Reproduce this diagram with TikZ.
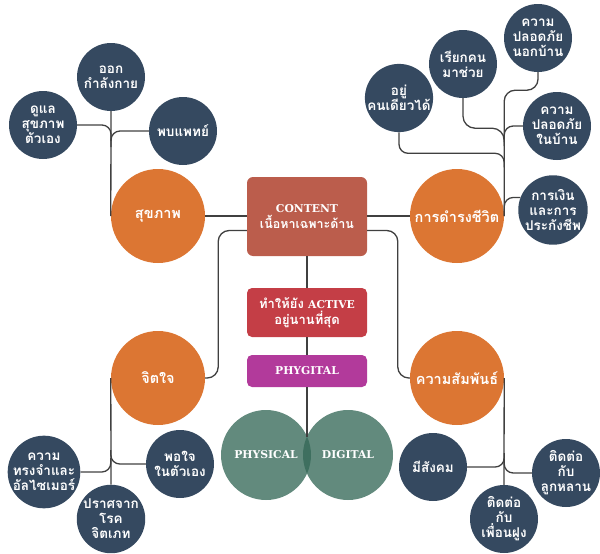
\documentclass[tikz,border=0pt]{standalone}
\usepackage{fontspec}
\newfontfamily\thai[Script=Thai]{Loma}
\newfontfamily\slab{DejaVu Serif}
\usetikzlibrary{calc}
\definecolor{navy}{HTML}{354960}
\definecolor{orangec}{HTML}{DC7633}
\definecolor{contentc}{HTML}{BB5D4C}
\definecolor{activec}{HTML}{C43E46}
\definecolor{phygc}{HTML}{B23A9B}
\definecolor{greenc}{RGB}{51,103,86}
\definecolor{linegray}{HTML}{404040}
\begin{document}
\begin{tikzpicture}[x=1pt,y=-1pt,
  conn/.style={draw=linegray,line width=1.3pt,rounded corners=9pt},
  sub/.style={circle,fill=navy,minimum size=68pt,inner sep=0pt,align=center,text=white,font=\thai\bfseries\fontsize{13.5}{15}\selectfont},
  topic/.style={circle,fill=orangec,minimum size=94pt,inner sep=0pt,align=center,text=white,font=\thai\bfseries\fontsize{14.5}{16}\selectfont},
  box/.style={rectangle,rounded corners=6pt,minimum width=120pt,inner sep=0pt,align=center,text=white,font=\thai\bfseries\fontsize{13}{16}\selectfont},
  venn/.style={circle,fill=greenc,fill opacity=0.77,text opacity=1,minimum size=90pt,inner sep=0pt,text=white,font=\slab\bfseries\fontsize{10.8}{12}\selectfont},
  lat/.style={font=\slab\bfseries\fontsize{10.5}{12}\selectfont}
]
\useasboundingbox (0,0) rectangle (600,554);

% central column
\node[box,fill=contentc,minimum height=79pt] (content) at (307,216.5)
  {{\slab\bfseries\fontsize{10.8}{12}\selectfont CONTENT}\\{\fontsize{12.5}{16}\selectfont เนื้อหาเฉพาะด้าน}};
\node[box,fill=activec,minimum height=49pt,rounded corners=5pt] (active) at (307,312.5)
  {ทำให้ยัง {\slab\bfseries\fontsize{10.8}{12}\selectfont ACTIVE}\\อยู่นานที่สุด};
\node[box,fill=phygc,minimum height=32pt,rounded corners=5pt] (phygital) at (307,371)
  {{\slab\bfseries\fontsize{10.8}{12}\selectfont PHYGITAL}};
\node[venn] (physical) at (266,455) {PHYSICAL};
\node[venn] (digital) at (348,455) {DIGITAL};
\coordinate (lenstop) at (307,436.5);

% topics
\node[topic] (health) at (158,216) {สุขภาพ};
\node[topic] (living) at (457,216) {การดำรงชีวิต};
\node[topic] (mind) at (158,378) {จิตใจ};
\node[topic] (relation) at (457,378) {ความสัมพันธ์};

% health subtopics
\node[sub] (h1) at (111,77) {ออก\\กำลังกาย};
\node[sub] (h2) at (43,125) {ดูแล\\สุขภาพ\\ตัวเอง};
\node[sub] (h3) at (183,131) {พบแพทย์};

% living subtopics
\node[sub] (l1) at (399,98) {อยู่\\คนเดียวได้};
\node[sub] (l2) at (463,64) {เรียกคน\\มาช่วย};
\node[sub] (l3) at (538,38) {ความ\\ปลอดภัย\\นอกบ้าน};
\node[sub] (l4) at (557,126) {ความ\\ปลอดภัย\\ในบ้าน};
\node[sub] (l5) at (553,210) {การเงิน\\และการ\\ประกังชีพ};

% mind subtopics
\node[sub] (m1) at (44,472) {ความ\\ทรงจำและ\\อัลไซเมอร์};
\node[sub] (m2) at (111,519) {ปราศจาก\\โรค\\จิตเภท};
\node[sub] (m3) at (180,464) {พอใจ\\ในตัวเอง};

% relation subtopics
\node[sub] (r1) at (433,467) {มีสังคม};
\node[sub] (r2) at (504,519) {ติดต่อ\\กับ\\เพื่อนฝูง};
\node[sub] (r3) at (566,473) {ติดต่อ\\กับ\\ลูกหลาน};

% central connectors
\draw[conn] (content.south) -- (active.north);
\draw[conn] (active.south) -- (phygital.north);
\draw[conn] (phygital.south) -- (lenstop);
\draw[conn] (health.east) -- (content.west |- health.east);
\draw[conn] (content.east |- living.west) -- (living.west);
\draw[conn,rounded corners=11pt] ([yshift=-14pt]content.west) -| ($(mind.east)+(13,0)$) -- (mind.east);
\draw[conn,rounded corners=11pt] ([yshift=-14pt]content.east) -| ($(relation.west)+(-12,0)$) -- (relation.west);

% health branches
\draw[conn] (h1.south) -- (health.west);
\draw[conn] (h2.east) -| ($(h2.east -| h1.south)+(0,16)$);
\draw[conn] (h3.west) -| ($(h3.west -| h1.south)+(0,16)$);

% living branches
\draw[conn,rounded corners=11pt] (l3.south) |- ($(l3.south -| living.east)+(0,18)$) -- (living.east);
\draw[conn,rounded corners=12pt] (l2.south) |- ($(l2.south -| living.east)+(0,30)$) -- ++(0,18);
\draw[conn] (l1.south) |- ($(l1.south -| living.east)+(0,21)$) -- ++(0,14);
\draw[conn] (l4.west) -| ($(l4.west -| living.east)+(0,16)$);
\draw[conn] (l5.159) -| (living.east);

% mind branches
\draw[conn] (mind.west) -- (m2.north);
\draw[conn] (m1.east) -| ($(m1.east -| mind.west)+(0,-14)$);
\draw[conn] (m3.west) -| ($(m3.west -| mind.west)+(0,-14)$);

% relation branches
\draw[conn] (relation.east) -- (r2.north);
\draw[conn] (r1.east) -| ($(r1.east -| relation.east)+(0,-14)$);
\draw[conn] (r3.west) -| ($(r3.west -| relation.east)+(0,-14)$);
\end{tikzpicture}
\end{document}
